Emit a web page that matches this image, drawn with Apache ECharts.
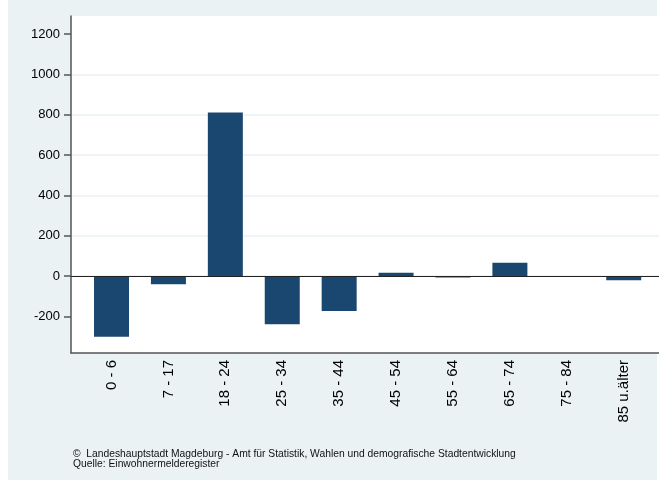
<!DOCTYPE html>
<html>
<head>
<meta charset="utf-8">
<script src="https://cdn.jsdelivr.net/npm/echarts@6/dist/echarts.min.js"></script>
<style>
  html, body { margin: 0; padding: 0; background: #fff; }
  #chart { width: 659px; height: 484px; }
</style>
</head>
<body>
<div id="chart"></div>
<script>
// Altersgruppen und Saldo
const categories = ["0 - 6", "7 - 17", "18 - 24", "25 - 34", "35 - 44", "45 - 54", "55 - 64", "65 - 74", "75 - 84", "85 u.älter"];
const values = [-301, -41, 810, -240, -174, 16, -8, 66, -5, -21];
const yTicks = [-200, 0, 200, 400, 600, 800, 1000, 1200];
const footer = [
  "©  Landeshauptstadt Magdeburg - Amt für Statistik, Wahlen und demografische Stadtentwicklung",
  "Quelle: Einwohnermelderegister"
];

const bg = "#eaf2f3";
const barColor = "#1a476f";
const font = "Liberation Sans, Arial, sans-serif";

const chart = echarts.init(document.getElementById("chart"));
const option = {
  animation: false,
  backgroundColor: "#fff",
  graphic: [
    { type: "rect", z: -10, shape: { x: 8, y: 0, width: 649, height: 480 }, style: { fill: bg } },
    {
      type: "text", left: 73, top: 449,
      style: { text: footer.join("\n"), font: "10.3px 'Liberation Sans Narrow', 'Liberation Sans', Arial, sans-serif", fill: "#111", lineHeight: 10 }
    }
  ],
  grid: {
    left: 71, right: 0, top: 16, bottom: 131,
    show: true, backgroundColor: "#fff", borderWidth: 0
  },
  xAxis: {
    type: "value",
    min: -0.712, max: 9.62,
    axisLine: { show: true, onZero: false, lineStyle: { color: "#555", width: 1.5 } },
    axisTick: { show: false, customValues: categories.map((c, i) => i) },
    splitLine: { show: false },
    axisLabel: {
      customValues: categories.map((c, i) => i),
      formatter: v => categories[Math.round(v)],
      rotate: 90, margin: 7,
      fontFamily: font, fontSize: 15, color: "#000"
    }
  },
  yAxis: {
    type: "value",
    min: -382, max: 1289,
    axisLine: { show: true, onZero: false, lineStyle: { color: "#555", width: 1.5 } },
    axisTick: { show: true, length: 7, customValues: yTicks, lineStyle: { color: "#555", width: 1.5 } },
    splitLine: { show: true, customValues: yTicks, showMinLine: false, showMaxLine: false, lineStyle: { color: bg, width: 1.5 } },
    axisLabel: {
      customValues: yTicks, margin: 11,
      formatter: v => String(v),
      fontFamily: font, fontSize: 13, color: "#000"
    }
  },
  series: [{
    type: "bar",
    barWidth: 35,
    itemStyle: { color: barColor },
    data: values.map((v, i) => [i, v]),
    markLine: {
      silent: true, symbol: "none", label: { show: false },
      lineStyle: { color: "#222", width: 1, type: "solid" },
      data: [{ yAxis: 0 }]
    }
  }]
};
chart.setOption(option);
</script>
</body>
</html>
